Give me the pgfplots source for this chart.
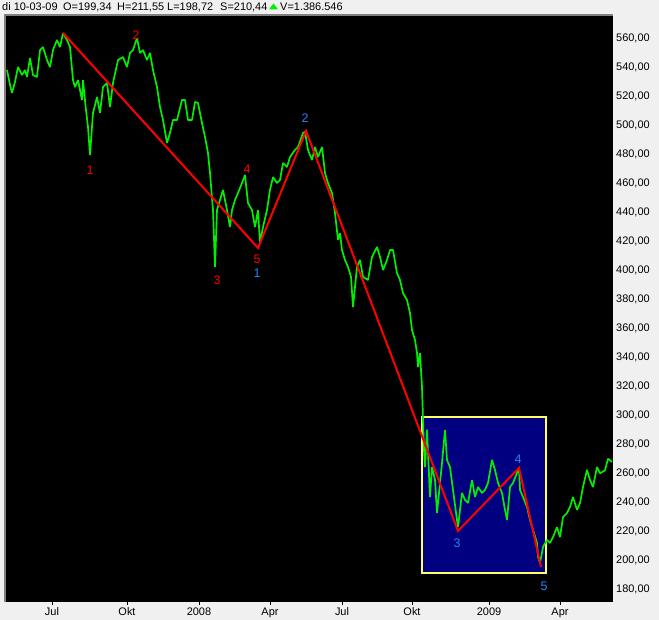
\documentclass[border=0pt]{standalone}
\usepackage{fontspec}
\setmainfont{Liberation Sans}
\usepackage{pgfplots}
\pgfplotsset{compat=1.18}
\usepackage{pgfplotstable}
\definecolor{bg}{RGB}{240,240,240}
\definecolor{framegray}{RGB}{128,128,128}
\definecolor{lime}{RGB}{0,240,0}
\definecolor{wblue}{RGB}{40,130,250}
\definecolor{navybox}{RGB}{0,0,128}
\definecolor{ybox}{RGB}{255,255,100}

\pgfplotstableread{
x y
7 538.1
10 528.0
12 522.3
15 529.9
18 540.2
22 534.7
25 538.1
27 533.3
30 546.4
33 534.7
37 533.3
40 551.9
43 554.0
47 545.0
50 540.2
53 551.9
57 558.8
60 554.0
63 563.6
67 558.8
70 554.0
73 531.2
75 526.4
78 531.2
82 517.4
83 531.2
86 510.5
88 498.8
90 479.5
93 508.5
97 519.5
100 508.5
103 526.4
107 529.2
110 512.6
113 529.2
118 545.0
123 547.1
127 540.2
130 549.9
133 551.9
137 560.2
140 549.9
143 551.9
147 545.0
150 549.9
153 538.1
157 526.4
160 512.6
163 503.7
167 487.8
170 494.7
173 503.7
177 503.7
182 517.4
185 517.4
188 503.7
192 503.7
195 516.1
198 515.4
202 501.6
205 491.9
208 480.9
210 467.1
213 441.6
215 402.3
217 441.6
220 448.5
223 455.4
227 441.6
230 429.8
232 441.6
235 448.5
238 453.3
242 460.2
245 465.7
248 446.4
252 441.6
255 429.8
258 441.6
260 418.8
263 429.8
267 441.6
270 455.4
273 464.3
277 460.2
280 462.3
283 474.0
287 471.2
290 478.1
295 483.0
298 485.0
303 494.7
305 495.5
308 483.0
312 476.1
315 485.0
318 478.1
322 485.0
325 467.1
328 460.2
332 453.3
335 439.5
338 420.9
340 425.7
342 414.0
345 407.1
348 402.3
351 395.4
353 374.7
357 402.3
360 407.1
363 395.4
368 393.3
372 409.2
377 416.1
380 409.2
383 400.2
387 407.1
390 414.0
393 414.0
397 398.1
400 393.3
403 384.3
407 379.5
410 370.5
412 358.8
415 351.9
417 343.0
418 333.3
420 343.0
422 319.5
423 296.7
424 276.1
425 264.3
427 290.0
430 243.6
432 264.3
435 255.4
437 232.6
440 253.3
442 267.1
445 289.8
447 269.2
450 264.3
453 248.5
457 227.8
458 222.9
462 246.4
465 241.6
468 239.5
472 255.4
475 243.6
478 250.5
482 246.4
485 248.5
488 253.3
492 269.2
495 262.3
498 253.3
502 246.4
505 234.7
507 227.8
510 250.5
513 253.3
517 260.2
519 263.6
520 248.5
523 243.6
527 236.7
530 227.8
533 220.9
537 211.9
538 202.3
540 198.1
543 209.1
547 214.0
550 211.9
553 216.0
557 222.9
560 216.0
563 229.8
567 232.6
570 236.7
573 243.6
577 234.7
580 239.5
583 250.5
587 262.3
590 255.4
593 250.5
597 264.3
600 260.0
605 262.0
608 270.0
612 267.8
}\greendata

\begin{document}
\begin{tikzpicture}
\useasboundingbox (0bp,0bp) rectangle (659bp,620bp);
\fill[bg] (0bp,0bp) rectangle (659bp,620bp);
\begin{axis}[
  at={(6bp,18bp)}, anchor=south west,
  width=607bp, height=586bp, scale only axis,
  xmin=6, xmax=613, ymin=171.2, ymax=575.4,
  axis background/.style={fill=black},
  axis line style={draw=none},
  xtick={52,127,199,270,342,412,489,560},
  xticklabels={Jul,Okt,2008,Apr,Jul,Okt,2009,Apr},
  xtick pos=bottom, tick align=outside, major tick length=3bp,
  xtick style={black, line width=1bp},
  ytick={180,200,...,560},
  ytick pos=right, ytick style={draw=none},
  yticklabel style={anchor=west, inner sep=0pt, xshift=0bp, font=\fontsize{11}{13}\selectfont},
  xticklabel style={anchor=base, inner sep=0pt, font=\fontsize{11}{13}\selectfont, yshift=-10bp},
  /pgf/number format/.cd, fixed, fixed zerofill, precision=2, use comma, 1000 sep={}, assume math mode=true
]
\addplot[fill=navybox, draw=ybox, line width=1.5bp] coordinates {(422,191.2) (546,191.2) (546,298.8) (422,298.8)} -- cycle;
\addplot[lime, line width=1.7bp, line join=bevel, mark=none] table[x=x,y=y]{\greendata};
\addplot[red, line width=2bp, mark=none] coordinates {(63,563.7) (258,415.4) (306,496.1) (458,220.2) (519,263.7) (541,195.4)};
\begin{scope}[font=\fontsize{12.5}{14}\selectfont]
\node[text=red] at (axis cs:90,469.2) {1};
\node[text=red] at (axis cs:136,562.3) {2};
\node[text=red] at (axis cs:217,393.3) {3};
\node[text=red] at (axis cs:247,469.8) {4};
\node[text=red] at (axis cs:257,407.8) {5};
\node[text=wblue] at (axis cs:257,398.1) {1};
\node[text=wblue] at (axis cs:305,505.0) {2};
\node[text=wblue] at (axis cs:457,211.9) {3};
\node[text=wblue] at (axis cs:518,269.8) {4};
\node[text=wblue] at (axis cs:544,182.2) {5};
\end{scope}
\end{axis}
\draw[framegray, line width=2bp] (5bp,18bp) -- (5bp,605bp);
\draw[framegray, line width=1.6bp] (4bp,605.2bp) -- (613bp,605.2bp);
\begin{scope}[every node/.style={anchor=base west, inner sep=0pt, font=\fontsize{11}{13}\selectfont}]
\node at (2bp,609bp) {di 10-03-09};
\node at (63bp,609bp) {O=199,34};
\node at (117bp,609bp) {H=211,55};
\node at (167bp,609bp) {L=198,72};
\node at (220bp,609bp) {S=210,44};
\node at (280bp,609bp) {V=1.386.546};
\end{scope}
\fill[lime] (269bp,610.5bp) -- (278bp,610.5bp) -- (273.5bp,616.5bp) -- cycle;
\end{tikzpicture}
\end{document}
